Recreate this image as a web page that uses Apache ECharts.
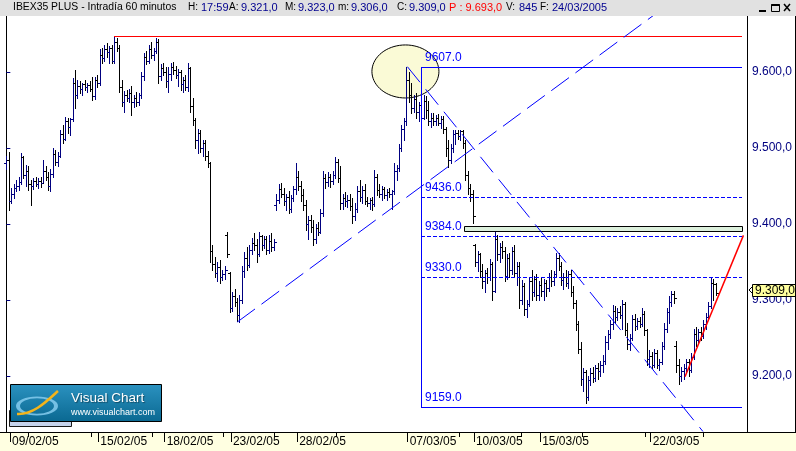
<!DOCTYPE html>
<html><head><meta charset="utf-8">
<script src="https://cdn.jsdelivr.net/npm/echarts@6/dist/echarts.min.js"></script>
<style>html,body{margin:0;padding:0;background:#fff}#c{width:796px;height:451px}</style>
</head><body><div id="c"></div>
<script>
// ---------- DATA (hourly OHLC bars, index = bar number) ----------
const barOpen = [
9480,9484,9430,9440,9448,9450,9455,9488,9465,9470, 9452,9450,9456,9452,9457,9454,9470,9462,9450,9466,
9492,9482,9490,9518,9512,9535,9528,9538,9585,9570, 9582,9578,9584,9580,9583,9578,9568,9590,9585,9622,
9618,9630,9626,9632,9614,9640,9632,9580,9560,9570, 9566,9572,9560,9566,9560,9570,9595,9620,9614,9630,
9622,9628,9640,9595,9605,9600,9588,9598,9606,9602, 9596,9600,9584,9590,9580,9605,9555,9537,9510,9520,
9500,9506,9490,9480,9365,9348,9336,9344,9330,9334, 9385,9336,9290,9305,9298,9280,9300,9338,9355,9346,
9366,9375,9372,9360,9384,9372,9380,9366,9378,9370, 9425,9432,9446,9440,9430,9436,9420,9434,9446,9462,
9450,9438,9425,9400,9405,9396,9380,9395,9390,9414, 9460,9455,9462,9456,9465,9482,9460,9428,9434,9430,
9432,9424,9410,9420,9444,9436,9445,9430,9428,9432, 9426,9462,9445,9440,9446,9438,9442,9440,9443,9470,
9474,9500,9525,9535,9590,9570,9552,9565,9548,9556, 9540,9562,9550,9536,9540,9536,9540,9533,9538,9525,
9500,9484,9500,9518,9520,9516,9522,9506,9465,9448, 9440,9372,9350,9360,9338,9325,9336,9330,9348,9312,
9380,9360,9370,9364,9332,9355,9340,9364,9336,9345, 9300,9318,9288,9295,9325,9310,9328,9306,9320,9312,
9322,9316,9330,9325,9334,9355,9345,9326,9330,9322, 9334,9310,9296,9268,9236,9196,9205,9172,9195,9204,
9198,9210,9206,9215,9220,9245,9255,9268,9285,9278, 9284,9280,9295,9260,9242,9250,9275,9266,9272,9268,
9282,9260,9222,9226,9214,9230,9215,9218,9240,9262, 9284,9298,9308,9240,9215,9200,9206,9210,9218,9208,
9225,9255,9248,9258,9252,9268,9278,9292,9322,9321];
const barHigh = [
9490,9495,9448,9452,9458,9462,9493,9490,9478,9476, 9458,9460,9462,9460,9462,9484,9476,9468,9472,9500,
9498,9495,9524,9530,9541,9540,9540,9592,9603,9590, 9588,9586,9590,9585,9588,9593,9594,9596,9630,9632,
9636,9638,9634,9636,9647,9645,9635,9590,9575,9576, 9578,9582,9570,9574,9572,9600,9625,9628,9635,9640,
9632,9645,9644,9610,9612,9606,9606,9612,9613,9608, 9604,9603,9594,9596,9612,9606,9566,9540,9525,9524,
9511,9510,9496,9482,9372,9356,9350,9352,9340,9345, 9390,9337,9310,9315,9302,9306,9345,9363,9370,9372,
9382,9388,9380,9390,9386,9384,9384,9386,9388,9380, 9440,9452,9454,9448,9440,9444,9438,9450,9480,9470,
9456,9446,9432,9410,9412,9405,9400,9402,9420,9470, 9466,9468,9466,9470,9488,9486,9476,9440,9442,9438,
9440,9434,9428,9450,9458,9450,9452,9436,9434,9436, 9471,9466,9452,9450,9449,9446,9447,9445,9480,9478,
9505,9530,9540,9607,9600,9585,9570,9572,9560,9566, 9570,9568,9562,9546,9546,9544,9545,9542,9542,9528,
9510,9505,9524,9524,9524,9524,9524,9510,9470,9452, 9445,9374,9365,9362,9348,9340,9342,9354,9350,9390,
9386,9375,9378,9370,9360,9362,9370,9372,9350,9350, 9326,9322,9300,9330,9339,9332,9334,9325,9330,9328,
9326,9335,9339,9338,9362,9362,9350,9335,9340,9338, 9340,9318,9300,9272,9245,9210,9208,9200,9210,9212,
9214,9217,9220,9228,9252,9260,9274,9293,9292,9290, 9292,9300,9298,9270,9255,9280,9282,9276,9278,9290,
9285,9262,9234,9232,9236,9234,9222,9245,9270,9290, 9305,9312,9312,9246,9222,9212,9216,9222,9222,9230,
9262,9265,9262,9264,9274,9283,9298,9330,9328,9323];
const barLow = [
9472,9418,9428,9434,9444,9445,9452,9460,9450,9445, 9425,9446,9450,9448,9449,9455,9458,9445,9444,9462,
9478,9476,9488,9506,9510,9520,9517,9536,9553,9566, 9572,9570,9576,9574,9575,9563,9565,9580,9583,9612,
9614,9620,9612,9612,9612,9628,9574,9555,9548,9562, 9560,9543,9554,9555,9556,9566,9590,9610,9612,9618,
9616,9625,9586,9590,9596,9580,9574,9590,9598,9592, 9582,9576,9574,9576,9575,9548,9530,9500,9493,9495,
9490,9484,9475,9350,9340,9330,9325,9322,9326,9328, 9357,9284,9286,9292,9272,9271,9296,9330,9340,9344,
9360,9366,9350,9358,9366,9368,9360,9362,9365,9366, 9418,9428,9436,9425,9418,9414,9416,9430,9440,9445,
9430,9418,9392,9380,9390,9372,9375,9385,9388,9410, 9448,9450,9449,9452,9460,9455,9420,9420,9424,9422,
9418,9401,9405,9416,9430,9428,9426,9424,9420,9418, 9424,9438,9436,9432,9434,9432,9436,9420,9440,9458,
9470,9496,9510,9530,9560,9546,9548,9540,9535,9532, 9538,9540,9530,9528,9530,9530,9530,9526,9520,9490,
9475,9480,9495,9505,9512,9510,9500,9458,9440,9430, 9401,9345,9338,9330,9316,9310,9322,9326,9300,9310,
9352,9350,9355,9325,9328,9330,9334,9330,9320,9290, 9295,9280,9278,9292,9300,9305,9300,9300,9305,9300,
9305,9312,9318,9320,9330,9340,9320,9315,9318,9316, 9305,9290,9260,9230,9188,9180,9164,9168,9188,9192,
9194,9196,9200,9205,9216,9235,9250,9262,9270,9274, 9276,9262,9254,9235,9234,9247,9260,9262,9264,9266,
9254,9214,9212,9210,9212,9210,9208,9216,9236,9258, 9270,9292,9296,9205,9190,9194,9196,9205,9200,9205,
9222,9240,9244,9248,9250,9262,9274,9290,9300,9306];
const barClose = [
9484,9430,9440,9448,9450,9455,9488,9465,9470,9452, 9450,9456,9452,9457,9454,9470,9462,9450,9466,9492,
9482,9490,9518,9512,9535,9528,9538,9585,9570,9582, 9578,9584,9580,9583,9578,9568,9590,9585,9622,9618,
9630,9626,9632,9614,9640,9632,9580,9560,9570,9566, 9572,9560,9566,9560,9570,9595,9620,9614,9630,9622,
9628,9640,9595,9605,9600,9588,9598,9606,9602,9596, 9600,9584,9590,9580,9605,9555,9537,9510,9520,9500,
9506,9490,9480,9365,9348,9336,9344,9330,9334,9340, 9360,9290,9305,9298,9280,9300,9338,9355,9346,9366,
9375,9372,9360,9384,9372,9380,9366,9378,9370,9376, 9432,9446,9440,9430,9436,9420,9434,9446,9462,9450,
9438,9425,9400,9405,9396,9380,9395,9390,9414,9460, 9455,9462,9456,9465,9482,9460,9428,9434,9430,9432,
9424,9410,9420,9444,9436,9445,9430,9428,9432,9426, 9462,9445,9440,9446,9438,9442,9440,9443,9470,9474,
9500,9525,9535,9590,9570,9552,9565,9548,9556,9540, 9562,9550,9536,9540,9536,9540,9533,9538,9525,9500,
9484,9500,9518,9520,9516,9522,9506,9465,9448,9440, 9410,9350,9360,9338,9325,9336,9330,9348,9312,9380,
9360,9370,9364,9332,9355,9340,9364,9336,9345,9300, 9318,9288,9295,9325,9310,9328,9306,9320,9312,9322,
9316,9330,9325,9334,9355,9345,9326,9330,9322,9334, 9310,9296,9268,9236,9196,9205,9172,9195,9204,9198,
9210,9206,9215,9220,9245,9255,9268,9285,9278,9284, 9280,9295,9260,9242,9250,9275,9266,9272,9268,9282,
9260,9222,9226,9214,9230,9215,9218,9240,9262,9284, 9298,9308,9302,9215,9200,9206,9210,9218,9208,9225,
9255,9248,9258,9252,9268,9278,9292,9322,9321,9309];

const dateTickIdx = [1.5, 37.5, 64.5, 91.5, 118.5, 163.5, 190.5, 217.5, 262.5];
const dateTickLabels = ['09/02/05','15/02/05','18/02/05','23/02/05','28/02/05','07/03/05','10/03/05','15/03/05','22/03/05'];
const minorTickIdx = [8.8, 34.5, 59.4, 88.3, 109.1, 134.3, 184.4, 209.7, 234.5, 260.2, 283.8];
const priceTicks = [9200, 9300, 9400, 9500, 9600];

// annotations (in bar-index / price units)
const resistanceLine = [[43.9, 9647], [299.7, 9647]];
const fiboLevels = [9607, 9436, 9384, 9330, 9159];
const fiboSpan = [168.95, 299.7];
const gapBox = [[186.3, 9397], [299.7, 9391]];
const upTrend = [[94.1, 9271], [264.3, 9676]];
const downTrend = [[163.4, 9607], [283.8, 9127]];
const redTrend = [[276.5, 9199], [300.3, 9385]];
const topMark = { center: [162.6, 9600.7], radius: [13.65, 34.9] };
const lastPrice = 9309;

const headerTitle = 'IBEX35 PLUS - Intradía 60 minutos';
const headerLabels = ['H:', 'A:', 'M:', 'm:', 'C:', 'V:', 'F:'];
const headerValues = ['17:59', '9.321,0', '9.323,0', '9.306,0', '9.309,0', '845', '24/03/2005'];
const headerP = 'P : 9.693,0';

// ---------- CHART ----------
const FONT = '"Liberation Sans", Arial, sans-serif';
const X_MIN = -2.574, X_MAX = 301.76, Y_MIN = 9126.3, Y_MAX = 9675;
const BLUE = 'rgb(0,0,255)';

function fmtEs(v) {
  const s = Number(v).toFixed(1).split('.');
  return s[0].replace(/\B(?=(\d{3})+(?!\d))/g, '.') + ',' + s[1];
}
const crisp = v => Math.round(v) + 0.5;

const chart = echarts.init(document.getElementById('c'), null, { renderer: 'canvas' });

const barData = barOpen.map((o, i) => [i, o, barHigh[i], barLow[i], barClose[i]]);

function renderBar(params, api) {
  const i = api.value(0), o = api.value(1), h = api.value(2), l = api.value(3), c = api.value(4);
  const ph = api.coord([i, h]), pl = api.coord([i, l]), po = api.coord([i, o]), pc = api.coord([i, c]);
  const x = Math.round(ph[0]);
  const col = c >= o ? '#000080' : '#000000';
  const yh = Math.round(ph[1]), yl = Math.max(Math.round(pl[1]), yh + 1);
  const yo = Math.round(po[1]), yc = Math.round(pc[1]);
  return { type: 'group', children: [
    { type: 'rect', shape: { x: x, y: yh, width: 1, height: yl - yh + 1 }, style: { fill: col } },
    { type: 'rect', shape: { x: x - 2, y: yo, width: 2, height: 1 }, style: { fill: col } },
    { type: 'rect', shape: { x: x + 1, y: yc, width: 2, height: 1 }, style: { fill: col } }
  ]};
}

function renderEllipse(params, api) {
  const c = api.coord(topMark.center);
  const s = api.size(topMark.radius);
  const pts = [];
  for (let k = 0; k < 72; k++) {
    const a = k / 72 * Math.PI * 2;
    pts.push([c[0] + s[0] * Math.cos(a), c[1] + s[1] * Math.sin(a)]);
  }
  return { type: 'polygon', shape: { points: pts }, style: { fill: '#FAFAD6', stroke: '#000', lineWidth: 1 } };
}

function seg(api, a, b, style) {
  const p = api.coord(a), q = api.coord(b);
  return { type: 'line', shape: { x1: p[0], y1: p[1], x2: q[0], y2: q[1] }, style: style };
}

function renderAnnotations(params, api) {
  const ch = [];
  // resistance (red horizontal)
  const r0 = api.coord(resistanceLine[0]), r1 = api.coord(resistanceLine[1]);
  ch.push({ type: 'rect', shape: { x: Math.round(r0[0]), y: Math.round(r0[1]), width: Math.round(r1[0] - r0[0]), height: 1 }, style: { fill: '#FF0000' } });
  // gap box
  const g0 = api.coord(gapBox[0]), g1 = api.coord(gapBox[1]);
  ch.push({ type: 'rect', shape: { x: crisp(g0[0]), y: crisp(g0[1]), width: Math.round(g1[0] - g0[0]), height: Math.round(g1[1] - g0[1]) },
            style: { fill: '#DCF0DC', stroke: '#000', lineWidth: 1 } });
  // fibo box
  const xs = Math.round(api.coord([fiboSpan[0], fiboLevels[0]])[0]);
  const xe = Math.round(api.coord([fiboSpan[1], fiboLevels[0]])[0]);
  fiboLevels.forEach((v, k) => {
    const y = Math.round(api.coord([fiboSpan[0], v])[1]);
    const solid = (k === 0 || k === fiboLevels.length - 1);
    if (solid) {
      ch.push({ type: 'rect', shape: { x: xs, y: y, width: xe - xs, height: 1 }, style: { fill: BLUE } });
    } else {
      for (let x = xs; x < xe; x += 6) {
        ch.push({ type: 'rect', shape: { x: x, y: y, width: Math.min(4, xe - x), height: 1 }, style: { fill: BLUE } });
      }
    }
    ch.push({ type: 'text', style: { text: v.toFixed(1), x: xs + 4, y: y - 3, fill: BLUE, font: '12px ' + FONT, align: 'left', verticalAlign: 'bottom' } });
  });
  const yt = Math.round(api.coord([fiboSpan[0], fiboLevels[0]])[1]);
  const yb = Math.round(api.coord([fiboSpan[0], fiboLevels[fiboLevels.length - 1]])[1]);
  ch.push({ type: 'rect', shape: { x: xs, y: yt, width: 1, height: yb - yt + 1 }, style: { fill: BLUE } });
  // trend lines
  ch.push(seg(api, upTrend[0], upTrend[1], { stroke: BLUE, lineWidth: 1, lineDash: [22, 8] }));
  ch.push(seg(api, downTrend[0], downTrend[1], { stroke: BLUE, lineWidth: 1, lineDash: [20, 9] }));
  ch.push(seg(api, redTrend[0], redTrend[1], { stroke: '#FF0000', lineWidth: 1.5 }));
  // last price tag on the axis
  const pp = api.coord([X_MAX, lastPrice]);
  const px = pp[0], py = Math.round(pp[1]);
  ch.push({ type: 'polyline', shape: { points: [[px + 5, py - 6], [px + 2, py - 3], [px + 5, py]] }, style: { stroke: '#000', lineWidth: 1, fill: null } });
  ch.push({ type: 'rect', shape: { x: px + 5.5, y: py - 8.5, width: 50, height: 12 }, style: { fill: '#FFFF9E', stroke: '#000', lineWidth: 1 } });
  ch.push({ type: 'text', style: { text: fmtEs(lastPrice), x: px + 8, y: py - 2.5, fill: '#000', font: '12px ' + FONT, align: 'left', verticalAlign: 'middle' } });
  return { type: 'group', children: ch };
}

// header
const headerLabelX = [188, 229, 285, 338, 397, 506, 540];
const headerValueX = [200, 240, 297, 350, 408, 518, 551];
const hdrFont = '11px ' + FONT;
const lblFont = '10px ' + FONT;
const headerEls = [{ type: 'rect', shape: { x: 0, y: 0, width: 796, height: 16 }, style: { fill: '#E1E1E1' }, z: 20 },
  { type: 'text', x: 13, y: 7.5, style: { text: headerTitle, font: '10.4px ' + FONT, fill: '#000', verticalAlign: 'middle' }, z: 21 },
  { type: 'text', x: 449, y: 7.5, style: { text: headerP, font: hdrFont, fill: '#FF0000', verticalAlign: 'middle' }, z: 21 }];
headerLabels.forEach((t, k) => {
  headerEls.push({ type: 'text', x: headerLabelX[k], y: 7.5, style: { text: t, font: lblFont, fill: '#000', verticalAlign: 'middle' }, z: 21 });
  headerEls.push({ type: 'text', x: headerValueX[k] + 1, y: 7.5, style: { text: headerValues[k], font: hdrFont, fill: '#000090', verticalAlign: 'middle' }, z: 21 });
});
// window buttons
headerEls.push(
  { type: 'line', shape: { x1: 759, y1: 11, x2: 766, y2: 11 }, style: { stroke: '#000', lineWidth: 2 }, z: 21 },
  { type: 'rect', shape: { x: 771.5, y: 4.5, width: 8, height: 7 }, style: { fill: null, stroke: '#000', lineWidth: 1 }, z: 21 },
  { type: 'line', shape: { x1: 771.5, y1: 5, x2: 779.5, y2: 5 }, style: { stroke: '#000', lineWidth: 2 }, z: 21 },
  { type: 'line', shape: { x1: 784, y1: 4, x2: 790, y2: 11 }, style: { stroke: '#000', lineWidth: 1.5 }, z: 21 },
  { type: 'line', shape: { x1: 790, y1: 4, x2: 784, y2: 11 }, style: { stroke: '#000', lineWidth: 1.5 }, z: 21 }
);

const logoEls = [
  { type: 'rect', shape: { x: 9.5, y: 410.5, width: 62, height: 16 }, style: { fill: '#C6D3EC', stroke: '#1a1a1a', lineWidth: 1 }, z: 15 },
  { type: 'rect', shape: { x: 10.5, y: 384.5, width: 151, height: 37 },
    style: { fill: new echarts.graphic.LinearGradient(0, 0, 0, 1, [{ offset: 0, color: '#2B92C0' }, { offset: 1, color: '#0A6891' }]), stroke: '#000', lineWidth: 1 }, z: 16 },
  { type: 'circle', x: 37, y: 406, scaleY: 0.45, shape: { cx: 0, cy: 0, r: 19 }, style: { fill: null, stroke: '#86CDEE', lineWidth: 4, opacity: 0.85 }, z: 17 },
  { type: 'bezierCurve', shape: { x1: 17, y1: 414, cpx1: 33, cpy1: 415, cpx2: 46, cpy2: 402, x2: 58, y2: 391 }, style: { stroke: '#F4B41A', lineWidth: 2.5, fill: null }, z: 18 },
  { type: 'text', x: 71, y: 398, style: { text: 'Visual Chart', font: '13.5px ' + FONT, fill: '#FFFFFF', verticalAlign: 'middle', textShadowColor: 'rgba(0,0,0,0.4)', textShadowOffsetX: 1, textShadowOffsetY: 1, textShadowBlur: 1 }, z: 18 },
  { type: 'text', x: 71, y: 413, style: { text: 'www.visualchart.com', font: '9px ' + FONT, fill: '#FFFFFF', verticalAlign: 'middle' }, z: 18 }
];

const frameEls = [
  { type: 'rect', shape: { x: 0, y: 432, width: 796, height: 19 }, style: { fill: '#FFFFE1' }, z: -5 },
  { type: 'line', shape: { x1: 0, y1: 432.5, x2: 796, y2: 432.5 }, style: { stroke: '#000', lineWidth: 1 }, z: 5 },
  { type: 'rect', shape: { x: 747.5, y: 15.5, width: 48, height: 417 }, style: { fill: null, stroke: '#000', lineWidth: 1 }, z: 5 }
];

const option = {
  animation: false,
  backgroundColor: '#FFFFFF',
  textStyle: { fontFamily: FONT },
  grid: { left: 0, right: 49, top: 15, bottom: 19, containLabel: false },
  xAxis: [
    { type: 'value', min: X_MIN, max: X_MAX, position: 'bottom', splitLine: { show: false },
      axisLine: { show: true, lineStyle: { color: '#000', width: 1 } },
      axisTick: { show: true, customValues: dateTickIdx, length: 10, lineStyle: { color: '#000' } },
      axisLabel: { customValues: dateTickIdx, align: 'left', margin: 4, padding: [0, 0, 0, 2], color: '#000', fontSize: 12, fontFamily: FONT,
        formatter: v => { const k = dateTickIdx.findIndex(t => Math.abs(t - v) < 1e-6); return k >= 0 ? dateTickLabels[k] : ''; } } },
    { type: 'value', min: X_MIN, max: X_MAX, position: 'bottom', splitLine: { show: false },
      axisLine: { show: false },
      axisTick: { show: true, customValues: minorTickIdx, length: 5, lineStyle: { color: '#000' } },
      axisLabel: { show: false } }
  ],
  yAxis: {
    type: 'value', position: 'right', min: Y_MIN, max: Y_MAX, splitLine: { show: false },
    axisLine: { show: true, lineStyle: { color: '#000' } },
    axisTick: { show: true, customValues: priceTicks, length: 4, lineStyle: { color: '#000080' } },
    axisLabel: { customValues: priceTicks, formatter: fmtEs, color: '#000080', fontSize: 12, fontFamily: FONT, margin: 5 }
  },
  graphic: [...frameEls, ...headerEls, ...logoEls],
  series: [
    { type: 'custom', name: 'mark', silent: true, z: 1, data: [[0]], renderItem: renderEllipse },
    { type: 'custom', name: 'IBEX35', silent: true, z: 2, data: barData, encode: { x: 0, y: [2, 3] }, renderItem: renderBar },
    { type: 'custom', name: 'annotations', silent: true, z: 3, data: [[0]], renderItem: renderAnnotations }
  ]
};
chart.setOption(option);
</script></body></html>
